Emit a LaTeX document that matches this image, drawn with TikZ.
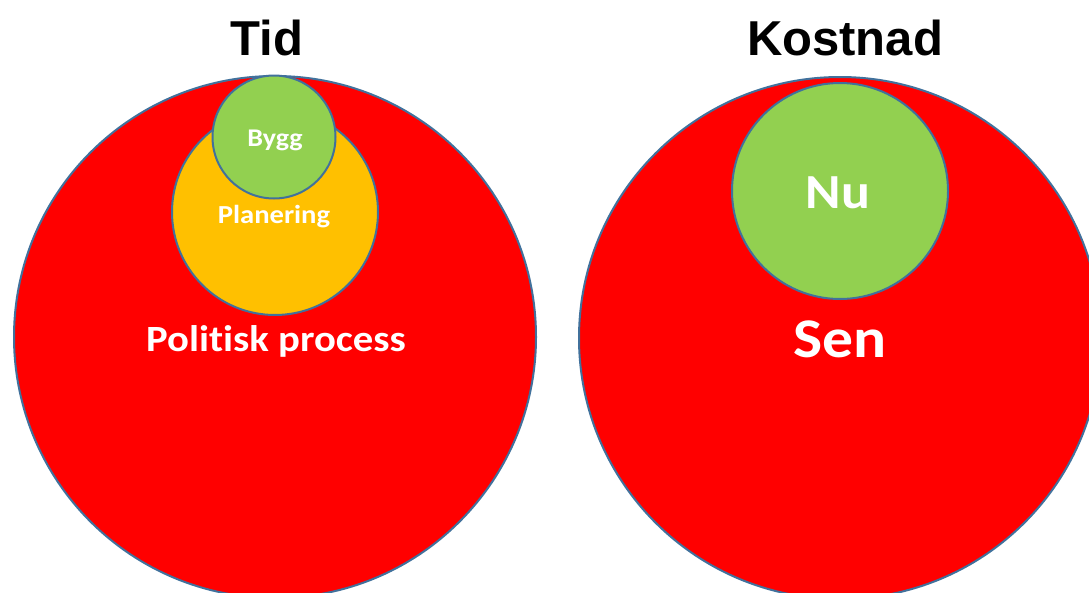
\documentclass[tikz,border=0pt]{standalone}
\usepackage{fontspec}
\setmainfont{Liberation Sans}
\newfontfamily\calibri[FakeStretch=1.1, Ligatures=NoCommon]{Carlito}
\definecolor{ringblue}{HTML}{41719C}
\definecolor{bigred}{HTML}{FF0000}
\definecolor{planorange}{HTML}{FFC000}
\definecolor{buildgreen}{HTML}{92D050}
\tikzset{
  blob/.style={circle, draw=ringblue, line width=2pt, inner sep=0pt},
  heading/.style={anchor=base, font=\bfseries\fontsize{49}{49}\selectfont, text=black},
  lbl/.style={anchor=base, text=white, font=\calibri\bfseries}
}
\begin{document}
\begin{tikzpicture}[x=1pt, y=-1pt]
        \useasboundingbox (0,0) rectangle (1089,592);
        \clip (0,0) rectangle (1089,592);
        % headings
        \node[heading] (tid)     at (267,55) {Tid};
        \node[heading] (kostnad) at (845,55) {Kostnad};
        % time circles
        \node[blob, fill=bigred,     minimum size=522pt] (politik) at (275,337) {};
        \node[blob, fill=planorange, minimum size=206pt] (plan)    at (275,212) {};
        \node[blob, fill=buildgreen, minimum size=123pt] (bygg)    at (274,137) {};
        % cost circles
        \node[blob, fill=bigred,     minimum size=522pt] (sen) at (840,338) {};
        \node[blob, fill=buildgreen, minimum size=216pt] (nu)  at (840,191) {};
        % labels
        \node[lbl, font=\calibri\bfseries\fontsize{37}{37}\selectfont] (politiklbl) at (276,351) {Politisk process};
        \node[lbl, font=\calibri\bfseries\fontsize{26}{26}\selectfont] (planlbl)    at (274,223) {Planering};
        \node[lbl, font=\calibri\bfseries\fontsize{25.5}{25.5}\selectfont] (bygglbl) at (275,146) {Bygg};
        \node[lbl, font=\calibri\bfseries\fontsize{56}{56}\selectfont] (senlbl)     at (840,357) {Sen};
        \node[lbl, font=\calibri\bfseries\fontsize{49}{49}\selectfont] (nulbl)      at (838,208) {Nu};
\end{tikzpicture}
\end{document}
